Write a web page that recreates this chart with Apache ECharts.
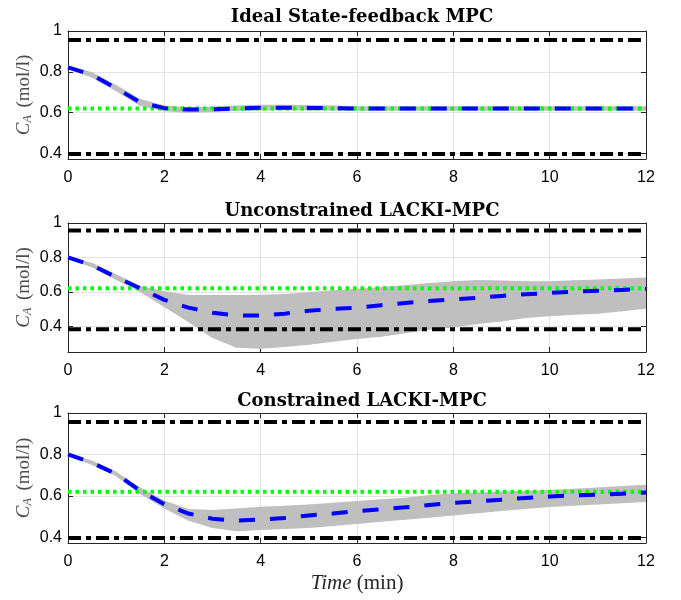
<!DOCTYPE html>
<html>
<head>
<meta charset="utf-8">
<script src="https://cdn.jsdelivr.net/npm/echarts@6/dist/echarts.min.js"></script>
<style>
html,body{margin:0;padding:0;background:#fff;}
#chart{width:681px;height:600px;}
</style>
</head>
<body>
<div id="chart"></div>
<script>
// ---------- data ----------
const time = [0,0.5,1,1.5,2,2.5,3,3.5,4,4.5,5,5.5,6,6.5,7,7.5,8,8.5,9,9.5,10,10.5,11,11.5,12];

const titles = ['Ideal State-feedback MPC', 'Unconstrained LACKI-MPC', 'Constrained LACKI-MPC'];

// Panel 1: ideal state-feedback MPC
const mean1 = [0.822,0.785,0.72,0.65,0.622,0.615,0.617,0.62,0.624,0.624,0.623,0.622,0.62,0.62,0.62,0.62,0.62,0.62,0.62,0.62,0.62,0.62,0.62,0.62,0.62];
const low1  = [0.818,0.777,0.71,0.638,0.612,0.603,0.608,0.613,0.616,0.617,0.616,0.615,0.614,0.614,0.614,0.614,0.614,0.614,0.614,0.614,0.614,0.614,0.614,0.614,0.614];
const high1 = [0.826,0.793,0.73,0.662,0.63,0.622,0.625,0.63,0.634,0.634,0.633,0.63,0.626,0.626,0.626,0.626,0.626,0.626,0.626,0.626,0.626,0.626,0.626,0.626,0.626];

// Panel 2: unconstrained LACKI-MPC
const mean2 = [0.80,0.755,0.685,0.62,0.553,0.508,0.478,0.463,0.462,0.473,0.49,0.50,0.508,0.522,0.535,0.546,0.556,0.565,0.576,0.586,0.593,0.601,0.606,0.611,0.616];
const low2  = [0.797,0.748,0.675,0.605,0.518,0.431,0.338,0.28,0.274,0.285,0.298,0.315,0.332,0.345,0.365,0.385,0.398,0.418,0.433,0.453,0.463,0.472,0.478,0.492,0.508];
const high2 = [0.803,0.762,0.695,0.628,0.598,0.575,0.575,0.576,0.577,0.582,0.592,0.603,0.612,0.622,0.633,0.645,0.655,0.663,0.66,0.655,0.656,0.661,0.666,0.672,0.677];

// Panel 3: constrained LACKI-MPC
const mean3 = [0.80,0.76,0.706,0.625,0.56,0.515,0.49,0.481,0.486,0.494,0.506,0.515,0.527,0.535,0.545,0.556,0.567,0.574,0.582,0.59,0.597,0.603,0.606,0.611,0.616];
const low3  = [0.797,0.755,0.70,0.615,0.545,0.486,0.45,0.434,0.44,0.445,0.45,0.46,0.47,0.48,0.49,0.50,0.51,0.521,0.532,0.542,0.551,0.558,0.564,0.57,0.576];
const high3 = [0.803,0.765,0.712,0.635,0.572,0.532,0.527,0.535,0.543,0.548,0.554,0.562,0.571,0.579,0.587,0.60,0.608,0.612,0.616,0.62,0.624,0.63,0.636,0.643,0.649];

const setpoint = 0.62;
const upperLimit = [0.956, 0.957, 0.956];
const lowerLimit = [0.397, 0.382, 0.397];
const yMin = [0.373, 0.25, 0.373];
const yMax = [1, 1, 1];
const yTicks = [0.4, 0.6, 0.8, 1];
const xTicks = [0, 12, 2]; // min, max, step

// ---------- layout ----------
const grids = [
  {left: 68, right: 35, top: 31, height: 128},
  {left: 68, right: 35, top: 223, height: 129},
  {left: 68, right: 35, top: 413, height: 130}
];
const titleTops = [3, 197, 387];

const means = [mean1, mean2, mean3];
const lows = [low1, low2, low3];
const highs = [high1, high2, high3];

const serif = 'Liberation Serif';
const titleFont = 'DejaVu Serif';
const sans = 'Liberation Sans';
const gray = '#bfbfbf';

const xAxes = [], yAxes = [], series = [];
grids.forEach((g, i) => {
  xAxes.push({
    type: 'value', gridIndex: i, min: xTicks[0], max: xTicks[1], interval: xTicks[2],
    axisLine: {show: true, onZero: false, lineStyle: {color: '#262626', width: 1}},
    axisTick: {show: true, inside: true, length: 5, lineStyle: {color: '#262626'}},
    axisLabel: {color: '#000', fontFamily: sans, fontSize: 16, margin: 11},
    splitLine: {show: true, lineStyle: {color: '#e3e3e3', width: 1}},
    name: i === 2 ? '{i|Time} (min)' : '',
    nameLocation: 'middle', nameGap: 30, nameMoveOverlap: false,
    nameTextStyle: {fontFamily: serif, fontSize: 21, color: '#262626',
      rich: {i: {fontFamily: serif, fontStyle: 'italic', fontSize: 21, color: '#262626'}}}
  });
  xAxes.push({
    type: 'value', gridIndex: i, position: 'top', min: xTicks[0], max: xTicks[1], interval: xTicks[2],
    axisLine: {show: true, onZero: false, lineStyle: {color: '#262626', width: 1}},
    axisTick: {show: true, inside: true, length: 5, lineStyle: {color: '#262626'}},
    axisLabel: {show: false}, splitLine: {show: false}
  });
  yAxes.push({
    type: 'value', gridIndex: i, min: yMin[i], max: yMax[i],
    axisLine: {show: true, onZero: false, lineStyle: {color: '#262626', width: 1}},
    axisTick: {show: true, inside: true, length: 5, customValues: yTicks, lineStyle: {color: '#262626'}},
    axisLabel: {color: '#000', fontFamily: sans, fontSize: 16, margin: 6, customValues: yTicks},
    splitLine: {show: true, lineStyle: {color: '#e3e3e3', width: 1}},
    name: '{c|C}{s|A} (mol/l)', nameLocation: 'middle', nameGap: 34, nameRotate: 90, nameMoveOverlap: false,
    nameTextStyle: {fontFamily: serif, fontSize: 19, color: '#4d4d4d', lineHeight: 20,
      rich: {
        c: {fontFamily: serif, fontStyle: 'italic', fontSize: 19, color: '#4d4d4d', lineHeight: 20},
        s: {fontFamily: serif, fontStyle: 'italic', fontSize: 12, color: '#4d4d4d', lineHeight: 12, verticalAlign: 'bottom', padding: [0, 3, 0, 0]}
      }}
  });
  yAxes.push({
    type: 'value', gridIndex: i, position: 'right', min: yMin[i], max: yMax[i],
    axisLine: {show: true, onZero: false, lineStyle: {color: '#262626', width: 1}},
    axisTick: {show: true, inside: true, length: 5, customValues: yTicks, lineStyle: {color: '#262626'}},
    axisLabel: {show: false, customValues: yTicks}, splitLine: {show: false}
  });

  const xi = i * 2, yi = i * 2;
  // band as segments between consecutive samples: [t0, lo0, hi0, t1, lo1, hi1]
  const segs = [];
  for (let k = 0; k < time.length - 1; k++) {
    segs.push([time[k], lows[i][k], highs[i][k], time[k + 1], lows[i][k + 1], highs[i][k + 1]]);
  }
  series.push({
    type: 'custom', xAxisIndex: xi, yAxisIndex: yi, data: segs, silent: true, clip: true, z: 1,
    renderItem: function (params, api) {
      const a = api.coord([api.value(0), api.value(1)]);
      const b = api.coord([api.value(0), api.value(2)]);
      const c = api.coord([api.value(3), api.value(5)]);
      const d = api.coord([api.value(3), api.value(4)]);
      return {
        type: 'polygon',
        shape: {points: [a, b, c, d]},
        style: {fill: gray, stroke: gray, lineWidth: 2, lineJoin: 'round'}
      };
    }
  });
  [upperLimit[i], lowerLimit[i]].forEach(c => {
    series.push({
      type: 'line', xAxisIndex: xi, yAxisIndex: yi,
      data: [[xTicks[0], c], [xTicks[1], c]],
      showSymbol: false, symbol: 'none', silent: true,
      lineStyle: {color: '#000', width: 4, type: [13, 5, 5, 5], cap: 'butt'}, z: 3
    });
  });
  series.push({
    type: 'line', xAxisIndex: xi, yAxisIndex: yi,
    data: [[xTicks[0], setpoint], [xTicks[1], setpoint]],
    showSymbol: false, symbol: 'none', silent: true,
    lineStyle: {color: '#00ff00', width: 4, type: [3.5, 4], cap: 'butt'}, z: 4
  });
  series.push({
    type: 'line', xAxisIndex: xi, yAxisIndex: yi,
    data: time.map((t, k) => [t, means[i][k]]),
    showSymbol: false, symbol: 'none', silent: true,
    lineStyle: {color: '#0000ff', width: 4, type: [16, 15], cap: 'butt'}, z: 5
  });
});

const option = {
  animation: false,
  backgroundColor: '#ffffff',
  title: titles.map((t, i) => ({
    text: t, left: 357, top: titleTops[i], textAlign: 'center',
    textStyle: {fontFamily: titleFont, fontWeight: 'bold', fontSize: 18, color: '#000'}
  })),
  grid: grids,
  xAxis: xAxes,
  yAxis: yAxes,
  series: series
};

const chart = echarts.init(document.getElementById('chart'), null, {renderer: 'canvas'});
chart.setOption(option);
</script>
</body>
</html>
